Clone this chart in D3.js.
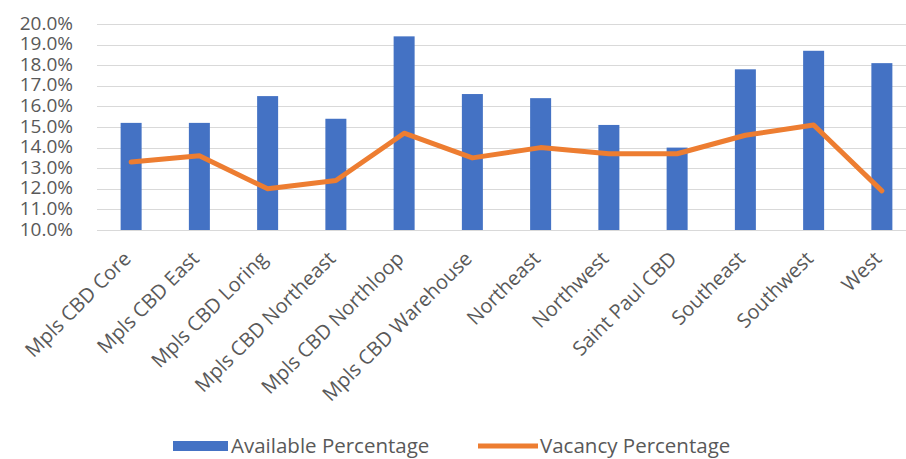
<!DOCTYPE html>
<html>
<head>
<meta charset="utf-8">
<script src="https://cdn.jsdelivr.net/npm/d3@7"></script>
<style>
  html, body { margin: 0; padding: 0; background: #ffffff; }
  svg { display: block; }
  text { font-family: "Open Sans", "Noto Sans", sans-serif; fill: #595959; }
</style>
</head>
<body>
<svg id="chart" width="906" height="459"></svg>
<script>
const categories = ["Mpls CBD Core", "Mpls CBD East", "Mpls CBD Loring", "Mpls CBD Northeast",
  "Mpls CBD Northloop", "Mpls CBD Warehouse", "Northeast", "Northwest", "Saint Paul CBD",
  "Southeast", "Southwest", "West"];
const availablePct = [0.152, 0.152, 0.165, 0.154, 0.194, 0.166, 0.164, 0.151, 0.140, 0.178, 0.187, 0.181];
const vacancyPct   = [0.133, 0.136, 0.120, 0.124, 0.147, 0.135, 0.140, 0.137, 0.137, 0.146, 0.151, 0.119];
const yTicks = [0.10, 0.11, 0.12, 0.13, 0.14, 0.15, 0.16, 0.17, 0.18, 0.19, 0.20];
const seriesNames = ["Available Percentage", "Vacancy Percentage"];

const svg = d3.select("#chart");
const blue = "#4472C4", orange = "#ED7D31";

const x = d3.scaleBand().domain(categories).range([97, 916]).paddingInner(0).paddingOuter(0);
const y = d3.scaleLinear().domain([0.10, 0.20]).range([230, 24]);
const barW = 21;

// gridlines
svg.append("g").selectAll("line").data(yTicks).join("line")
  .attr("x1", 97).attr("x2", 906)
  .attr("y1", d => Math.round(y(d)) + 0.5).attr("y2", d => Math.round(y(d)) + 0.5)
  .attr("stroke", "#d9d9d9").attr("stroke-width", 1);

// y axis labels
const yAxis = d3.axisLeft(y).tickValues(yTicks).tickFormat(d3.format(".1%")).tickSize(0).tickPadding(0);
const gy = svg.append("g").attr("transform", "translate(73,-1)").call(yAxis);
gy.select(".domain").remove();
gy.selectAll("text").style("font-size", "19px").attr("fill", "#595959")
  .style("font-family", '"Open Sans", sans-serif');

// bars
svg.append("g").selectAll("rect").data(availablePct).join("rect")
  .attr("x", (d, i) => x(categories[i]) + x.bandwidth() / 2 - barW / 2)
  .attr("width", barW)
  .attr("y", d => y(d))
  .attr("height", d => y(0.10) - y(d))
  .attr("fill", blue);

// line
const line = d3.line()
  .x((d, i) => x(categories[i]) + x.bandwidth() / 2)
  .y(d => y(d));
svg.append("path").datum(vacancyPct)
  .attr("d", line)
  .attr("fill", "none").attr("stroke", orange).attr("stroke-width", 5)
  .attr("stroke-linejoin", "round").attr("stroke-linecap", "round");

// x axis category labels
const xAxis = d3.axisBottom(x).tickSize(0).tickPadding(0);
const gx = svg.append("g").attr("transform", "translate(0,230)").call(xAxis);
gx.select(".domain").remove();
gx.selectAll(".tick text")
  .attr("transform", "translate(-4,25) rotate(-45)")
  .attr("text-anchor", "end")
  .attr("x", 0).attr("y", 0).attr("dy", "0.35em")
  .style("font-size", "20px").attr("fill", "#595959")
  .style("font-family", '"Open Sans", sans-serif');

// legend
const lg = svg.append("g");
lg.append("rect").attr("x", 173).attr("y", 441).attr("width", 55).attr("height", 10).attr("fill", blue);
lg.append("text").attr("x", 231).attr("y", 446).attr("dy", "0.35em")
  .style("font-size", "20.5px").text(seriesNames[0]);
lg.append("line").attr("x1", 478).attr("x2", 538).attr("y1", 446).attr("y2", 446)
  .attr("stroke", orange).attr("stroke-width", 5);
lg.append("text").attr("x", 540).attr("y", 446).attr("dy", "0.35em")
  .style("font-size", "20.5px").text(seriesNames[1]);
</script>
</body>
</html>
